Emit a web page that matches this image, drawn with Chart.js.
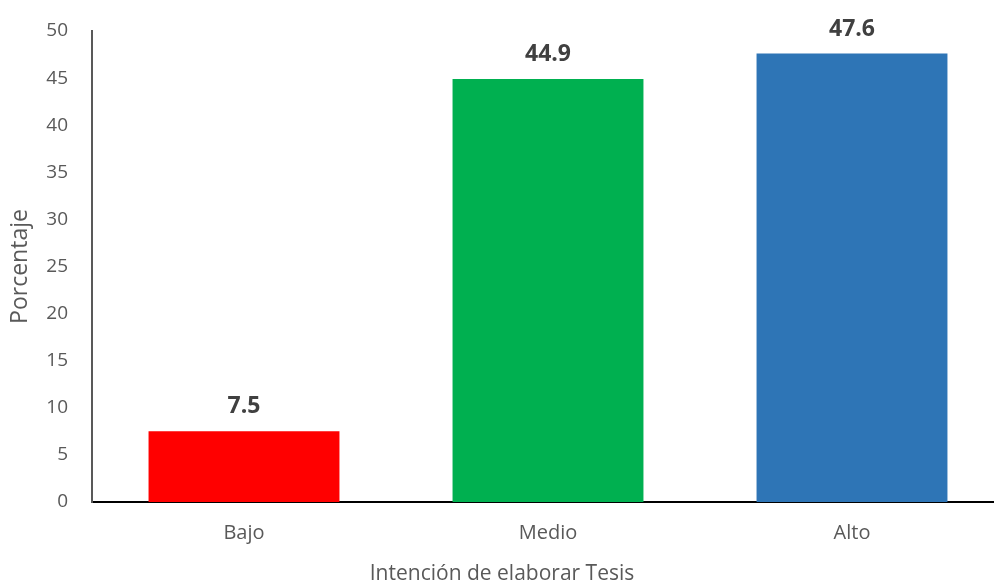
<!DOCTYPE html>
<html>
<head>
<meta charset="utf-8">
<script src="https://cdn.jsdelivr.net/npm/chart.js@4/dist/chart.umd.min.js"></script>
<style>
  html, body { margin: 0; padding: 0; background: #fff; overflow: hidden; }
  #wrap { width: 1004px; height: 587px; }
</style>
</head>
<body>
<div id="wrap"><canvas id="chart"></canvas></div>
<script>
// Chart data
const categories = ['Bajo', 'Medio', 'Alto'];
const percentages = [7.5, 44.9, 47.6];
const barColors = ['#FF0000', '#00B050', '#2E75B6'];
const yTicks = [0, 5, 10, 15, 20, 25, 30, 35, 40, 45, 50];

// Draw the value above each bar
const barValueLabels = {
  id: 'barValueLabels',
  afterDatasetsDraw(chart) {
    const ctx = chart.ctx;
    const meta = chart.getDatasetMeta(0);
    ctx.save();
    ctx.font = 'bold 23px "Open Sans"';
    ctx.fillStyle = '#404040';
    ctx.textAlign = 'center';
    ctx.textBaseline = 'alphabetic';
    meta.data.forEach(function(bar, i) {
      ctx.fillText(percentages[i].toFixed(1), bar.x, bar.y - 18);
    });
    ctx.restore();
  }
};

new Chart(document.getElementById('chart'), {
  type: 'bar',
  data: {
    labels: categories,
    datasets: [{
      data: percentages,
      backgroundColor: barColors,
      borderWidth: 0,
      categoryPercentage: 1,
      barPercentage: 0.628
    }]
  },
  options: {
    responsive: true,
    maintainAspectRatio: false,
    animation: false,
    layout: {
      padding: { top: 31, left: 0, right: 0, bottom: 2 }
    },
    plugins: {
      legend: { display: false },
      tooltip: { enabled: false },
      title: {
        display: true,
        position: 'bottom',
        text: 'Intención de elaborar Tesis',
        color: '#595959',
        font: { family: 'Open Sans', size: 21, weight: 'normal', lineHeight: 1.0 },
        padding: { top: 0, bottom: 0 }
      }
    },
    scales: {
      x: {
        grid: { display: false, drawTicks: false },
        border: { color: '#000000', width: 2 },
        ticks: {
          color: '#595959',
          font: { family: 'Open Sans', size: 20 },
          padding: 19
        }
      },
      y: {
        min: 0,
        max: 50,
        afterBuildTicks: function(scale) {
          scale.ticks = yTicks.map(v => ({ value: v }));
        },
        afterFit: function(scale) {
          // fixed axis width, and keep the tick padding from pushing the top down
          scale.width = 92;
          scale.paddingTop = 12;
          scale.paddingBottom = 12;
        },
        grid: { display: false, drawTicks: false },
        border: { color: '#595959', width: 2 },
        ticks: {
          color: '#595959',
          font: { family: 'Open Sans', size: 19 },
          padding: 24
        },
        title: {
          display: true,
          text: 'Porcentaje',
          color: '#595959',
          font: { family: 'Open Sans', size: 23 },
          padding: { top: 7, bottom: 0 }
        }
      }
    }
  },
  plugins: [barValueLabels]
});
</script>
</body>
</html>
